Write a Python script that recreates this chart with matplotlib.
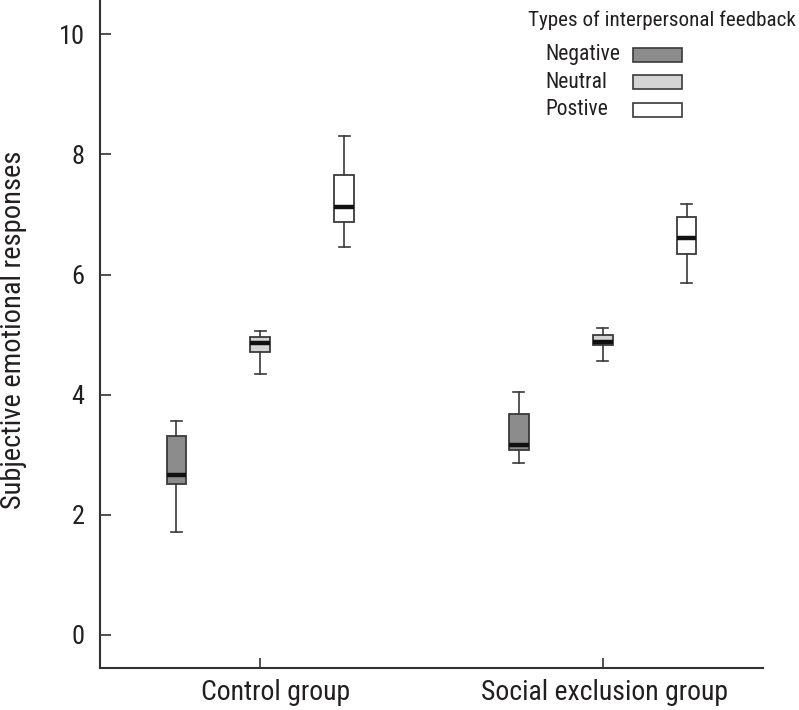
import matplotlib.pyplot as plt
from matplotlib.patches import Rectangle
from matplotlib.transforms import offset_copy

plt.rcParams['font.family'] = ['Roboto Condensed', 'Archivo Narrow', 'DejaVu Sans']

groups = ['Control group', 'Social exclusion group']
feedback = ['Negative', 'Neutral', 'Postive']
colors = ['#8c8c8c', '#d4d4d4', '#ffffff']

# box stats: whisker low, q1, median, q3, whisker high
whislo = [[1.71, 4.34, 6.46], [2.86, 4.56, 5.86]]
q1 = [[2.51, 4.71, 6.87], [3.08, 4.83, 6.35]]
med = [[2.66, 4.86, 7.13], [3.17, 4.88, 6.60]]
q3 = [[3.31, 4.96, 7.65], [3.68, 5.00, 6.96]]
whishi = [[3.56, 5.06, 8.30], [4.05, 5.11, 7.18]]

group_pos = [1, 2]
offsets = [-0.245, 0.0, 0.245]

fig = plt.figure(figsize=(7.99, 7.10), dpi=100)
ax = fig.add_axes([100 / 799, 42 / 710, 663 / 799, 668 / 710])

edge = '#3a3a3a'
for g, gp in enumerate(group_pos):
    for k, off in enumerate(offsets):
        stats = [{'whislo': whislo[g][k], 'q1': q1[g][k], 'med': med[g][k],
                  'q3': q3[g][k], 'whishi': whishi[g][k], 'fliers': []}]
        ax.bxp(stats, positions=[gp + off], widths=0.056, patch_artist=True,
               showfliers=False, manage_ticks=False,
               boxprops=dict(facecolor=colors[k], edgecolor=edge, linewidth=1.3),
               medianprops=dict(color='#111111', linewidth=3.2),
               whiskerprops=dict(color=edge, linewidth=1.2),
               capprops=dict(color=edge, linewidth=1.2),
               capwidths=0.032)

ax.set_xlim(0.533, 2.467)
ax.set_ylim(-0.55, 10.57)
ax.set_xticks(group_pos)
ax.set_xticklabels([])
# group names, the first one sits a little right of its tick in the original
label_shift = [15, 2]
for gp, name, dx in zip(group_pos, groups, label_shift):
    tr = offset_copy(ax.get_xaxis_transform(), fig=fig, x=dx, y=-25, units='dots')
    ax.text(gp, 0, name, transform=tr, fontsize=20, color='#231f20',
            ha='center', va='center')
ax.set_yticks([0, 2, 4, 6, 8, 10])
ax.tick_params(axis='y', direction='in', length=8, width=1.2, pad=11,
               labelsize=19, colors='#333333', labelcolor='#231f20')
ax.tick_params(axis='x', direction='in', length=7, width=1.2,
               colors='#333333')
for s in ['top', 'right']:
    ax.spines[s].set_visible(False)
for s in ['left', 'bottom']:
    ax.spines[s].set_linewidth(1.5)
    ax.spines[s].set_color('#333333')

ax.set_ylabel('Subjective emotional responses', fontsize=20.5, color='#231f20')
ax.yaxis.set_label_coords(-0.11, 0.507)

# legend drawn by hand in figure pixels
W, H = 799, 710
fig.text(528 / W, 1 - 20 / H, 'Types of interpersonal feedback', fontsize=15.2,
         color='#231f20', ha='left', va='center')
for k, name in enumerate(feedback):
    yc = 54.5 + 27.5 * k
    fig.text(545 / W, 1 - yc / H, name, fontsize=15.5, color='#231f20',
             ha='left', va='center')
    fig.patches.append(Rectangle((633 / W, 1 - (yc + 7) / H), 49 / W, 14 / H,
                                 transform=fig.transFigure, facecolor=colors[k],
                                 edgecolor=edge, linewidth=1.2))

fig.savefig('out.png', dpi=100)
